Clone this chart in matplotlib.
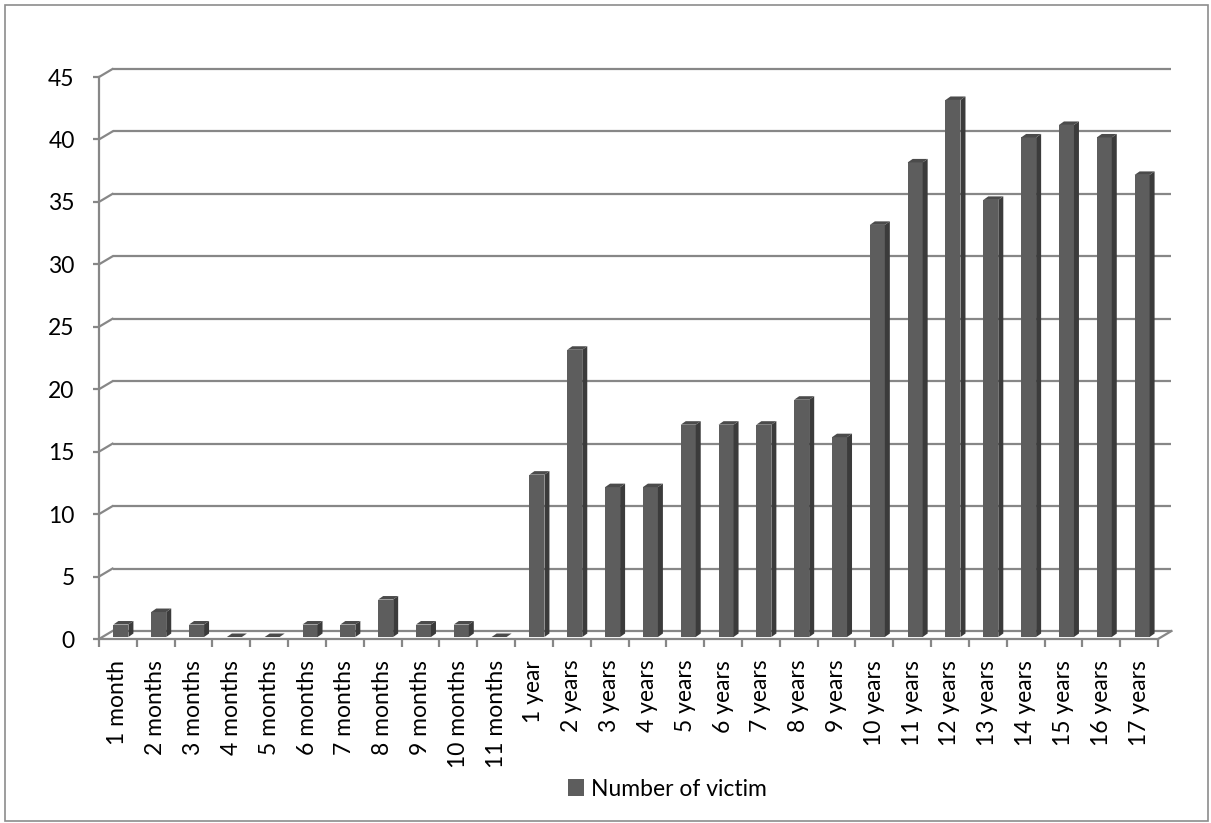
import matplotlib
matplotlib.use("Agg")
import matplotlib.pyplot as plt
from matplotlib.patches import Polygon, Rectangle, Patch

categories = ["1 month", "2 months", "3 months", "4 months", "5 months", "6 months",
              "7 months", "8 months", "9 months", "10 months", "11 months",
              "1 year", "2 years", "3 years", "4 years", "5 years", "6 years",
              "7 years", "8 years", "9 years", "10 years", "11 years", "12 years",
              "13 years", "14 years", "15 years", "16 years", "17 years"]
victims = [1, 2, 1, 0, 0, 1, 1, 3, 1, 1, 0,
           13, 23, 12, 12, 17, 17, 17, 19, 16,
           33, 38, 43, 35, 40, 41, 40, 37]
y_ticks = list(range(0, 50, 5))
series_name = "Number of victim"

FONT = ["Lato", "DejaVu Sans"]
plt.rcParams["font.family"] = FONT

W, H, DPI = 1211, 823, 100
fig = plt.figure(figsize=(W / DPI, H / DPI), dpi=DPI)

# front plane of the pseudo-3D plot area (pixels)
L, R, Y0, Y45 = 99, 1158, 639, 77
ax = fig.add_axes([L / W, (H - Y0) / H, (R - L) / W, (Y0 - Y45) / H])
n = len(categories)
ax.set_xlim(-0.5, n - 0.5)
ax.set_ylim(0, 45)

px_x = (R - L) / n          # pixels per category
px_y = (Y0 - Y45) / 45.0    # pixels per unit value

def dx(p):
    return p / px_x

def dy(p):
    return p / px_y

grid_c = "#878787"
grid_lw = 1.6

# back wall gridlines and the diagonal joins on the side wall
bx, by = dx(13.5), dy(8)
for v in y_ticks:
    ax.plot([-0.5 + bx, n - 0.5 + bx], [v + by, v + by], color=grid_c,
            lw=grid_lw, clip_on=False, zorder=1, solid_capstyle="butt")
    ax.plot([-0.5, -0.5 + bx], [v, v + by], color=grid_c, lw=grid_lw,
            clip_on=False, zorder=1)
ax.plot([n - 0.5, n - 0.5 + bx], [0, by], color=grid_c, lw=grid_lw,
        clip_on=False, zorder=1)

# 3D-looking bars: front face, right side and top
bw = dx(15) / 1.0
sx, sy = dx(3), dy(2)
ddx, ddy = dx(5), dy(3.5)
front_c, side_c, top_c = "#5d5d5d", "#3b3b3b", "#4b4b4b"
for i, v in enumerate(victims):
    x0 = i - bw / 2 + sx
    x1 = i + bw / 2 + sx
    b = sy
    t = v + sy
    if v > 0:
        ax.add_patch(Polygon([(x0, b), (x1, b), (x1, t), (x0, t)], closed=True,
                             facecolor=front_c, edgecolor="none", zorder=3,
                             clip_on=False))
        ax.add_patch(Polygon([(x1, b), (x1 + ddx, b + ddy), (x1 + ddx, t + ddy),
                              (x1, t)], closed=True, facecolor=side_c,
                             edgecolor="none", zorder=3, clip_on=False))
    ax.add_patch(Polygon([(x0, t), (x1, t), (x1 + ddx, t + ddy), (x0 + ddx, t + ddy)],
                         closed=True, facecolor=top_c, edgecolor="none", zorder=3,
                         clip_on=False))

# axes styling
for s in ("top", "right"):
    ax.spines[s].set_visible(False)
for s in ("left", "bottom"):
    ax.spines[s].set_color(grid_c)
    ax.spines[s].set_linewidth(grid_lw)
    ax.spines[s].set_zorder(2)

ax.set_yticks(y_ticks)
ax.set_yticklabels([str(v) for v in y_ticks])
ax.tick_params(axis="y", length=4.5, width=grid_lw, color=grid_c, pad=13,
               labelsize=16.5, labelcolor="black")

ax.set_xticks(range(n))
ax.set_xticklabels(categories, rotation=90, va="top", ha="center")
ax.set_xticks([i - 0.5 for i in range(n + 1)], minor=True)
ax.tick_params(axis="x", which="major", length=0, pad=15, labelsize=16.5,
               labelcolor="black")
ax.tick_params(axis="x", which="minor", length=6, width=grid_lw, color=grid_c)
ax.patch.set_alpha(0)

# legend below the labels
handle = Patch(facecolor=front_c, edgecolor="none")
fig.legend([handle], [series_name], loc="center",
           bbox_to_anchor=(667 / W, 1 - 789 / H), frameon=False,
           fontsize=16.5, handlelength=0.7, handleheight=0.7, handletextpad=0.3)

# chart-area border
fig.add_artist(Rectangle((5 / W, 2 / H), (W - 8) / W, (H - 7) / H,
                         transform=fig.transFigure, fill=False,
                         edgecolor="#8c8c8c", lw=1.2))

fig.savefig("out.png", dpi=DPI)
